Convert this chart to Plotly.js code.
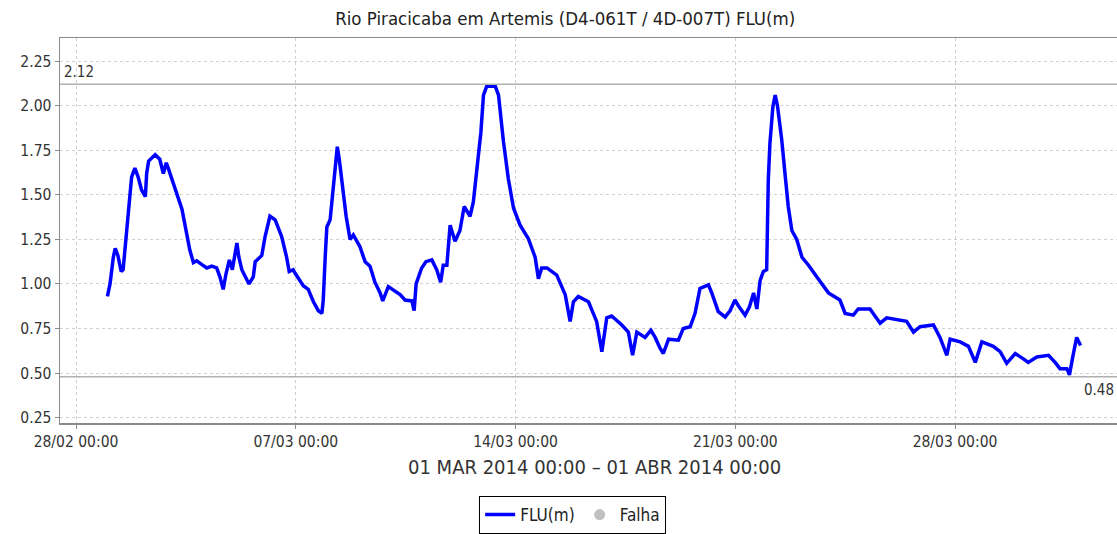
<!DOCTYPE html>
<html>
<head>
<meta charset="utf-8">
<script src="https://cdn.plot.ly/plotly-3.0.1.min.js"></script>
<style>
html,body{margin:0;padding:0;overflow:hidden;background:#fff;}
#chart{width:1117px;height:534px;}
</style>
</head>
<body>
<div id="chart"></div>
<script>
const times = [
"2014-03-01 00:00","2014-03-01 02:00","2014-03-01 04:30","2014-03-01 06:00","2014-03-01 08:00","2014-03-01 10:30","2014-03-01 12:00","2014-03-01 14:00","2014-03-01 16:00","2014-03-01 18:30",
"2014-03-01 21:00","2014-03-01 23:30","2014-03-02 02:00","2014-03-02 05:00","2014-03-02 06:00","2014-03-02 07:30","2014-03-02 12:30","2014-03-02 16:00","2014-03-02 18:45","2014-03-02 21:00",
"2014-03-02 22:30","2014-03-03 03:45","2014-03-03 09:00","2014-03-03 12:30","2014-03-03 15:00","2014-03-03 17:45","2014-03-03 20:15","2014-03-04 00:00","2014-03-04 04:00","2014-03-04 07:45",
"2014-03-04 11:30","2014-03-04 14:00","2014-03-04 16:30","2014-03-04 18:45","2014-03-04 21:15","2014-03-04 23:30","2014-03-05 03:00","2014-03-05 04:30","2014-03-05 06:45","2014-03-05 12:15",
"2014-03-05 15:30","2014-03-05 17:00","2014-03-05 22:00","2014-03-06 00:30","2014-03-06 04:15","2014-03-06 08:15","2014-03-06 13:15","2014-03-06 17:00","2014-03-06 19:00","2014-03-06 22:00",
"2014-03-06 23:30","2014-03-07 05:45","2014-03-07 09:30","2014-03-07 13:30","2014-03-07 17:15","2014-03-07 20:00","2014-03-07 21:00","2014-03-07 22:30","2014-03-07 23:45","2014-03-08 02:15",
"2014-03-08 04:45","2014-03-08 06:45","2014-03-08 07:45","2014-03-08 09:15","2014-03-08 12:00","2014-03-08 14:30","2014-03-08 17:30","2014-03-08 20:00","2014-03-09 01:00","2014-03-09 05:00",
"2014-03-09 08:45","2014-03-09 12:30","2014-03-09 16:30","2014-03-09 18:30","2014-03-09 22:45","2014-03-10 02:30","2014-03-10 07:45","2014-03-10 11:30","2014-03-10 16:45","2014-03-10 18:30",
"2014-03-10 20:00","2014-03-11 00:15","2014-03-11 03:30","2014-03-11 08:00","2014-03-11 11:45","2014-03-11 14:45","2014-03-11 16:45","2014-03-11 19:30","2014-03-11 22:00","2014-03-12 01:45",
"2014-03-12 05:30","2014-03-12 08:45","2014-03-12 13:15","2014-03-12 15:45","2014-03-12 18:30","2014-03-12 21:30","2014-03-12 23:30","2014-03-13 02:00","2014-03-13 08:30","2014-03-13 11:00",
"2014-03-13 14:45","2014-03-13 18:30","2014-03-13 22:30","2014-03-14 03:30","2014-03-14 09:45","2014-03-14 15:00","2014-03-14 17:30","2014-03-14 20:00","2014-03-15 00:00","2014-03-15 07:30",
"2014-03-15 14:00","2014-03-15 17:45","2014-03-15 20:15","2014-03-16 00:00","2014-03-16 07:45","2014-03-16 14:00","2014-03-16 18:00","2014-03-16 21:45","2014-03-17 01:30","2014-03-17 09:15",
"2014-03-17 14:15","2014-03-17 17:30","2014-03-17 20:45","2014-03-18 03:00","2014-03-18 07:30","2014-03-18 10:45","2014-03-18 14:30","2014-03-18 17:00","2014-03-18 21:00","2014-03-19 04:30",
"2014-03-19 08:15","2014-03-19 13:30","2014-03-19 17:15","2014-03-19 21:00","2014-03-20 03:30","2014-03-20 06:00","2014-03-20 11:00","2014-03-20 16:15","2014-03-20 20:00","2014-03-20 23:45",
"2014-03-21 03:00","2014-03-21 07:30","2014-03-21 10:45","2014-03-21 14:00","2014-03-21 16:30","2014-03-21 19:00","2014-03-21 21:30","2014-03-22 00:00","2014-03-22 01:15","2014-03-22 02:30",
"2014-03-22 04:45","2014-03-22 06:30","2014-03-22 08:15","2014-03-22 11:30","2014-03-22 14:00","2014-03-22 16:30","2014-03-22 19:15","2014-03-22 23:00","2014-03-23 03:00","2014-03-23 08:00",
"2014-03-23 14:15","2014-03-23 23:15","2014-03-24 08:00","2014-03-24 12:00","2014-03-24 18:15","2014-03-24 22:00","2014-03-25 07:00","2014-03-25 14:45","2014-03-25 19:45","2014-03-26 11:00",
"2014-03-26 16:15","2014-03-26 21:15","2014-03-27 07:30","2014-03-27 12:30","2014-03-27 17:45","2014-03-27 20:15","2014-03-28 04:00","2014-03-28 10:15","2014-03-28 15:30","2014-03-28 20:30",
"2014-03-29 05:15","2014-03-29 10:30","2014-03-29 15:30","2014-03-29 22:00","2014-03-30 04:15","2014-03-30 08:00","2014-03-30 14:30","2014-03-30 23:30","2014-03-31 04:30","2014-03-31 08:15",
"2014-03-31 13:30","2014-03-31 15:30","2014-03-31 18:00","2014-03-31 21:00","2014-04-01 00:00"
];
const levels = [
0.93,1.00,1.15,1.20,1.16,1.07,1.08,1.25,1.43,1.60,
1.65,1.60,1.53,1.49,1.62,1.69,1.725,1.70,1.62,1.68,
1.65,1.53,1.42,1.285,1.19,1.12,1.13,1.11,1.09,1.10,
1.09,1.04,0.97,1.06,1.135,1.08,1.23,1.15,1.08,1.00,
1.04,1.125,1.16,1.265,1.38,1.36,1.265,1.15,1.07,1.08,
1.06,0.99,0.97,0.90,0.85,0.835,0.91,1.15,1.32,1.36,
1.565,1.715,1.77,1.70,1.53,1.38,1.25,1.275,1.21,1.125,
1.10,1.01,0.95,0.905,0.985,0.965,0.94,0.91,0.905,0.85,
1.00,1.09,1.125,1.135,1.08,1.01,1.105,1.105,1.33,1.24,
1.30,1.435,1.38,1.46,1.66,1.85,2.06,2.11,2.11,2.06,
1.80,1.59,1.425,1.33,1.255,1.15,1.03,1.09,1.09,1.05,
0.94,0.79,0.90,0.93,0.90,0.79,0.62,0.81,0.82,0.77,
0.73,0.60,0.73,0.70,0.74,0.70,0.64,0.61,0.69,0.685,
0.75,0.76,0.835,0.975,0.995,0.95,0.845,0.815,0.85,0.91,
0.87,0.825,0.87,0.95,0.86,1.02,1.07,1.08,1.585,1.79,
1.995,2.06,2.00,1.81,1.62,1.435,1.30,1.25,1.15,1.105,
1.04,0.95,0.91,0.835,0.825,0.86,0.86,0.78,0.81,0.79,
0.73,0.76,0.77,0.70,0.60,0.69,0.675,0.65,0.56,0.675,
0.65,0.62,0.555,0.61,0.58,0.56,0.59,0.60,0.56,0.525,
0.525,0.49,0.59,0.70,0.655
];
const maxLevel = 2.12;
const minLevel = 0.48;
const yTicks = [0.25,0.50,0.75,1.00,1.25,1.50,1.75,2.00,2.25];
const titleText = "Rio Piracicaba em Artemis (D4-061T / 4D-007T) FLU(m)";
const periodText = "01 MAR 2014 00:00 \u2013 01 ABR 2014 00:00";

const FONT = "DejaVu Sans Condensed, DejaVu Sans, sans-serif";

const traces = [
  {x: times, y: levels, type: 'scatter', mode: 'lines', name: 'FLU(m)',
   line: {color: '#0000ff', width: 3.5}},
  {x: [null], y: [null], type: 'scatter', mode: 'markers', name: 'Falha',
   marker: {color: '#c0c0c0', size: 11}}
];

const layout = {
  width: 1117, height: 534,
  margin: {l: 60, r: 0, t: 38, b: 111},
  paper_bgcolor: '#fff', plot_bgcolor: '#fff',
  font: {family: FONT, color: '#333', size: 16},
  title: {text: titleText, font: {family: FONT, size: 18.5, color: '#222'},
          xref: 'container', x: 0.506, xanchor: 'center', y: 0.966, yanchor: 'middle'},
  xaxis: {
    type: 'date', range: ['2014-02-27 11:45', '2014-04-02 03:50'],
    tick0: '2014-02-28', dtick: 7*86400000, tickformat: '%d/%m %H:%M',
    showgrid: true, gridcolor: '#d0d0d0', griddash: '3px,3px', gridwidth: 1,
    showline: true, linecolor: '#8a8a8a', linewidth: 1.5, mirror: true,
    ticks: 'outside', ticklen: 4, tickcolor: '#8a8a8a',
    tickfont: {family: FONT, size: 15.5, color: '#333'}, zeroline: false
  },
  yaxis: {
    range: [0.22, 2.38], tickvals: yTicks, tickformat: '.2f',
    showgrid: true, gridcolor: '#d0d0d0', griddash: '3px,3px', gridwidth: 1,
    showline: true, linecolor: '#8a8a8a', linewidth: 1.5,
    ticks: 'outside', ticklen: 4, tickcolor: '#8a8a8a',
    tickfont: {family: FONT, size: 15.5, color: '#333'}, zeroline: false
  },
  shapes: [
    {type: 'line', xref: 'paper', x0: 0, x1: 1, yref: 'y', y0: maxLevel, y1: maxLevel,
     line: {color: '#b0b0b0', width: 1.5}},
    {type: 'line', xref: 'paper', x0: 0, x1: 1, yref: 'y', y0: minLevel, y1: minLevel,
     line: {color: '#b0b0b0', width: 1.5}}
  ],
  annotations: [
    {text: maxLevel.toFixed(2), xref: 'paper', x: 0, xanchor: 'left', xshift: 2,
     yref: 'y', y: maxLevel, yanchor: 'bottom', yshift: 1, showarrow: false,
     font: {family: FONT, size: 15, color: '#333'}},
    {text: minLevel.toFixed(2), xref: 'paper', x: 1, xanchor: 'right', xshift: -1,
     yref: 'y', y: minLevel, yanchor: 'top', yshift: -2, showarrow: false,
     font: {family: FONT, size: 15, color: '#333'}},
    {text: periodText, xref: 'paper', x: 0.506, xanchor: 'center',
     yref: 'paper', y: -0.115, yanchor: 'middle', showarrow: false,
     font: {family: FONT, size: 20, color: '#333'}}
  ],
  showlegend: true,
  legend: {orientation: 'h', xref: 'paper', x: 0.485, xanchor: 'center',
           yref: 'paper', y: -0.19, yanchor: 'top',
           bordercolor: '#000', borderwidth: 1, bgcolor: '#fff',
           font: {family: FONT, size: 17, color: '#222'}, itemwidth: 30,
           tracegroupgap: 0}
};

Plotly.newPlot('chart', traces, layout, {staticPlot: true, displayModeBar: false});
</script>
</body>
</html>
